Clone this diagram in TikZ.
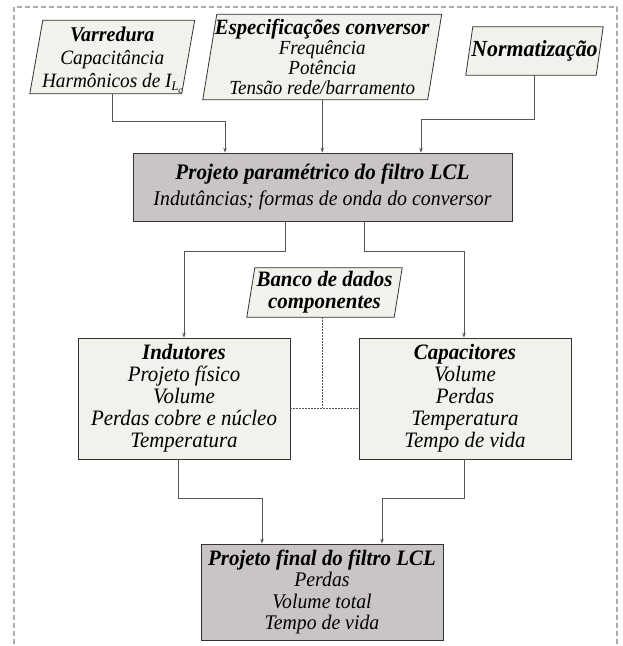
\documentclass[tikz,border=0pt]{standalone}
\usepackage{fontspec}
\setmainfont{Liberation Serif}[FakeStretch=0.95]
\usetikzlibrary{arrows.meta,backgrounds,calc}
\definecolor{lightbox}{HTML}{F0F2EC}
\definecolor{darkbox}{HTML}{C9C5C5}
\definecolor{edgec}{HTML}{333333}
\definecolor{wire}{HTML}{555555}
\definecolor{framec}{HTML}{ABABAB}
\newcommand\fs[2]{\fontsize{#1}{#2}\selectfont}
\newcommand\pgram[2]{\filldraw[pgramstyle] ([xshift=#2]#1.north west) -- ([xshift=#2]#1.north east) -- ([xshift=-#2]#1.south east) -- ([xshift=-#2]#1.south west) -- cycle;}
\tikzset{
  txt/.style={inner sep=0pt, align=center},
  rbox/.style={draw=edgec, line width=0.8pt, inner sep=0pt, align=center},
  pgramstyle/.style={fill=lightbox, draw=edgec, line width=0.8pt},
  conn/.style={draw=wire, line width=0.7pt, -{Stealth[length=5pt,width=3.5pt]}},
  dots/.style={draw=wire, line width=0.6pt, dash pattern=on 2pt off 1pt},
  framebox/.style={draw=framec, line width=1.2pt, dash pattern=on 5pt off 3pt}
}
\begin{document}
\begin{tikzpicture}[x=1pt,y=-1pt]
\useasboundingbox (0,0) rectangle (623,646);

% input parallelograms (text holders)
\node[txt, minimum width=151.5pt, minimum height=68pt, font=\itshape\fs{20.3}{23}] (var) at (112.25,57)
  {\rule{0pt}{21pt}{\bfseries\fs{21}{23}Varredura}\\Capacitância\\Harmônicos de I{\fs{13}{13}\raisebox{-3.5pt}{L\raisebox{-2.5pt}{\fs{9.5}{10}c}}}};
\node[txt, minimum width=224.5pt, minimum height=85pt, font=\itshape\fs{20}{20}] (esp) at (322.25,57)
  {{\bfseries\fs{21.8}{20}Especificações conversor}\\Frequência\\Potência\\Tensão rede/barramento};
\node[txt, minimum width=130pt, minimum height=48pt, font=\itshape\bfseries\fs{23}{24}] (norm) at (534.5,51)
  {Normatização};

% main parametric box
\node[rbox, fill=darkbox, minimum width=379pt, minimum height=68pt, font=\itshape\fs{20.9}{26}] (par) at (322.5,187)
  {{\bfseries\fs{22.2}{26}Projeto paramétrico do filtro LCL}\\Indutâncias; formas de onda do conversor};

% database
\node[txt, minimum width=147pt, minimum height=49pt, font=\itshape\bfseries\fs{22}{22}] (banco) at (324.5,292.5)
  {Banco de dados\\componentes};

% component boxes
\node[rbox, fill=lightbox, minimum width=212pt, minimum height=121pt, font=\itshape\fs{22}{22}] (ind) at (184,398.5)
  {{\bfseries Indutores}\\Projeto físico\\Volume\\Perdas cobre e núcleo\\Temperatura};
\node[rbox, fill=lightbox, minimum width=212pt, minimum height=121pt, font=\itshape\fs{22}{22}] (cap) at (465,398.5)
  {{\bfseries Capacitores}\\Volume\\Perdas\\Temperatura\\Tempo de vida};

% final box
\node[rbox, fill=darkbox, minimum width=242pt, minimum height=96pt, font=\itshape\fs{20.8}{21.5}] (fin) at (322,592)
  {{\bfseries\fs{22}{21.5}Projeto final do filtro LCL}\\Perdas\\Volume total\\Tempo de vida};

\begin{scope}[on background layer]
  \fill[white] (0,0) rectangle (623,646);
  \draw[framebox] (14,652) -- (14,7) -- (617,7) -- (617,652);
  \pgram{var}{6.5pt}
  \pgram{esp}{7pt}
  \pgram{norm}{3.5pt}
  \pgram{banco}{4pt}
\end{scope}

% connectors
\draw[conn] (var.south) -- ++(0,28) -| ([xshift=-97.5pt]par.north);
\draw[conn] (esp.south) -- (esp.south |- par.north);
\draw[conn] (norm.south) -- ++(0,44) -| ([xshift=98.5pt]par.north);
\draw[conn] ([xshift=-37.5pt]par.south) -- ++(0,30) -| (ind.north);
\draw[conn] ([xshift=41.5pt]par.south) -- ++(0,30) -| ([xshift=-1pt]cap.north);
\draw[conn] ([xshift=-6pt]ind.south) -- ++(0,39) -| ([xshift=-60pt]fin.north);
\draw[conn] ([xshift=-1pt]cap.south) -- ++(0,39) -| ([xshift=60pt]fin.north);

% dotted database links
\coordinate (dj) at ($(ind.east)+(0,9.5)$);
\draw[dots] (dj) -- (dj -| cap.west);
\draw[dots] ([xshift=-2.5pt]banco.south) -- ([xshift=-2.5pt]banco.south |- dj);
\end{tikzpicture}
\end{document}
